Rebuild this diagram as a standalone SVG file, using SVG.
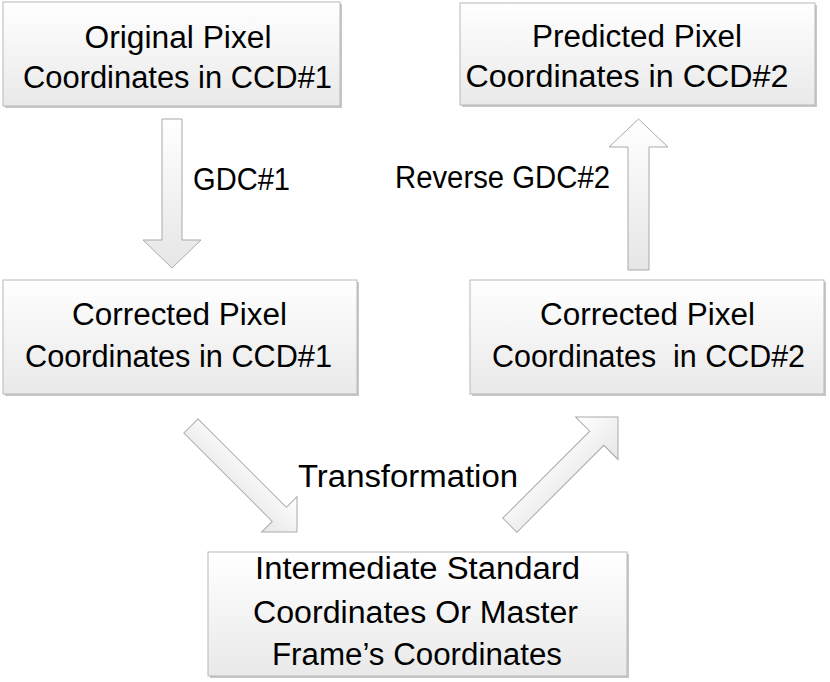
<svg xmlns="http://www.w3.org/2000/svg" width="830" height="682" viewBox="0 0 830 682">
<defs>
<linearGradient id="boxg" x1="0" y1="0" x2="0" y2="1">
<stop offset="0" stop-color="#ffffff"/>
<stop offset="1" stop-color="#e9e9e9"/>
</linearGradient>
<linearGradient id="arrg" x1="0" y1="0" x2="0" y2="1">
<stop offset="0" stop-color="#ffffff"/>
<stop offset="1" stop-color="#e6e6e6"/>
</linearGradient>
</defs>
<style>
.box{fill:url(#boxg);stroke:#b8b8b8;stroke-width:1}
.shadow{fill:#c9c9c9}
.arrow{fill:url(#arrg);stroke:#a9a9a9;stroke-width:1;stroke-linejoin:miter}
text{font-family:"Liberation Sans",Arial,sans-serif;font-size:31px;fill:#000;text-anchor:middle}
</style>
<rect width="830" height="682" fill="#ffffff"/>

<g id="connectors">
<polygon class="arrow" points="162,119 182,119 182,240 201,240 172,268 143,240 162,240"/>
<polygon class="arrow" points="628,270 649,270 649,147 668,147 638.5,119 609,147 628,147"/>
<polygon class="arrow" transform="translate(297,532) rotate(45)" points="0,0 -25,25 -25,10 -150,10 -150,-10 -25,-10 -25,-25"/>
<polygon class="arrow" transform="translate(618,417) rotate(-45)" points="0,0 -30,30 -30,10 -153,10 -153,-10 -30,-10 -30,-30"/>
<text x="241.5" y="190" textLength="97" lengthAdjust="spacingAndGlyphs">GDC#1</text>
<text x="502.5" y="188" textLength="215" lengthAdjust="spacingAndGlyphs">Reverse GDC#2</text>
<text x="408" y="487" textLength="220" lengthAdjust="spacingAndGlyphs">Transformation</text>
</g>

<g id="node-original">
<rect class="shadow" x="5" y="4" width="337" height="104"/>
<rect class="box" x="3" y="2" width="337" height="104"/>
<text x="178" y="48" textLength="187" lengthAdjust="spacingAndGlyphs">Original Pixel</text>
<text x="177.5" y="88" textLength="309" lengthAdjust="spacingAndGlyphs">Coordinates in CCD#1</text>
</g>

<g id="node-predicted">
<rect class="shadow" x="462" y="5" width="355" height="102"/>
<rect class="box" x="460" y="3" width="355" height="102"/>
<text x="637" y="47" textLength="210" lengthAdjust="spacingAndGlyphs">Predicted Pixel</text>
<text x="627" y="87" textLength="323" lengthAdjust="spacingAndGlyphs">Coordinates in CCD#2</text>
</g>

<g id="node-corrected1">
<rect class="shadow" x="5" y="282" width="354" height="114"/>
<rect class="box" x="3" y="280" width="354" height="114"/>
<text x="179.5" y="325" textLength="215" lengthAdjust="spacingAndGlyphs">Corrected Pixel</text>
<text x="178.5" y="367" textLength="307" lengthAdjust="spacingAndGlyphs">Coordinates in CCD#1</text>
</g>

<g id="node-corrected2">
<rect class="shadow" x="472" y="282" width="354" height="114"/>
<rect class="box" x="470" y="280" width="354" height="114"/>
<text x="647.5" y="325" textLength="215" lengthAdjust="spacingAndGlyphs">Corrected Pixel</text>
<text x="648.5" y="367" textLength="313" lengthAdjust="spacingAndGlyphs" xml:space="preserve">Coordinates  in CCD#2</text>
</g>

<g id="node-intermediate">
<rect class="shadow" x="210" y="554" width="419" height="124"/>
<rect class="box" x="208" y="552" width="419" height="124"/>
<text x="417.5" y="579" textLength="325" lengthAdjust="spacingAndGlyphs">Intermediate Standard</text>
<text x="415.5" y="623" textLength="325" lengthAdjust="spacingAndGlyphs">Coordinates Or Master</text>
<text x="417" y="665" textLength="290" lengthAdjust="spacingAndGlyphs">Frame’s Coordinates</text>
</g>
</svg>
